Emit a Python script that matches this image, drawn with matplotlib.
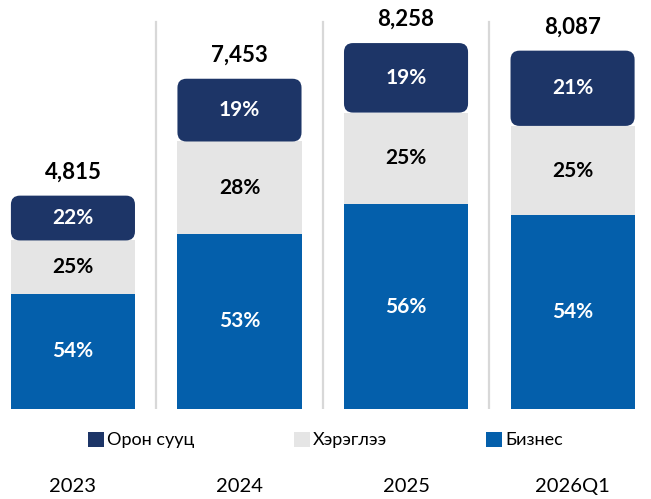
import matplotlib.pyplot as plt
from matplotlib.patches import FancyBboxPatch, Patch

years = ['2023', '2024', '2025', '2026Q1']
totals = [4815, 7453, 8258, 8087]
business = [54, 53, 56, 54]
consumer = [25, 28, 25, 25]
housing = [22, 19, 19, 21]
names = ['Орон сууц', 'Хэрэглээ', 'Бизнес']

navy = '#1d3567'
grey = '#e5e5e5'
blue = '#045fab'

plt.rcParams['font.family'] = ['Lato', 'DejaVu Sans']

fig = plt.figure(figsize=(6.51, 4.99), dpi=100)
ax = fig.add_axes([0, 90 / 499, 1, 409 / 499])

x = list(range(len(years)))
w = 0.745
b_val = [t * p / 100 for t, p in zip(totals, business)]
c_val = [t * p / 100 for t, p in zip(totals, consumer)]
h_val = [t - b - c for t, b, c in zip(totals, b_val, c_val)]
c_bottom = b_val
h_bottom = [b + c for b, c in zip(b_val, c_val)]

ax.bar(x, b_val, w, color=blue, zorder=2)
ax.bar(x, c_val, w, bottom=c_bottom, color=grey, zorder=2)
navy_bars = ax.bar(x, h_val, w, bottom=h_bottom, color=navy, zorder=3)

ax.set_xlim(-0.438, 3.471)
ax.set_ylim(0, 9230)

# swap the top segments for rounded boxes
px_x = 651 / (3.471 + 0.438)
px_y = 409 / 9230
for r in navy_bars:
    box = FancyBboxPatch((r.get_x(), r.get_y()), r.get_width(), r.get_height(),
                         boxstyle='round,pad=0,rounding_size=%f' % (9 / px_x),
                         mutation_aspect=px_x / px_y, fc=navy, ec='none', zorder=3)
    ax.add_patch(box)
    r.remove()

for i in x:
    ax.text(i, b_val[i] / 2, f'{business[i]}%', ha='center', va='center',
            color='white', fontsize=15, fontweight='bold', zorder=4)
    ax.text(i, c_bottom[i] + c_val[i] / 2, f'{consumer[i]}%', ha='center', va='center',
            color='black', fontsize=15, fontweight='bold', zorder=4)
    ax.text(i, h_bottom[i] + h_val[i] / 2, f'{housing[i]}%', ha='center', va='center',
            color='white', fontsize=15, fontweight='bold', zorder=4)
    ax.text(i, totals[i] + 540, f'{totals[i]:,}', ha='center', va='center',
            color='black', fontsize=16, fontweight='bold', zorder=4)

for d in [0.5, 1.5, 2.5]:
    ax.axvline(d, ymin=0, ymax=(409 - 22) / 409, color='#d8d8d8', lw=1.6, zorder=1)

ax.set_xticks(x)
ax.set_xticklabels(years, fontsize=14.5)
ax.tick_params(axis='x', length=0, pad=50)
ax.set_yticks([])
for s in ax.spines.values():
    s.set_visible(False)

handles = [Patch(fc=navy), Patch(fc=grey), Patch(fc=blue)]
fig.legend(handles, names, loc='center', bbox_to_anchor=(0.5, 1 - 440 / 499), ncol=3,
           frameon=False, fontsize=13, handlelength=0.9, handleheight=0.9,
           handletextpad=0.15, columnspacing=5.5)

fig.savefig('out.png', dpi=100)
